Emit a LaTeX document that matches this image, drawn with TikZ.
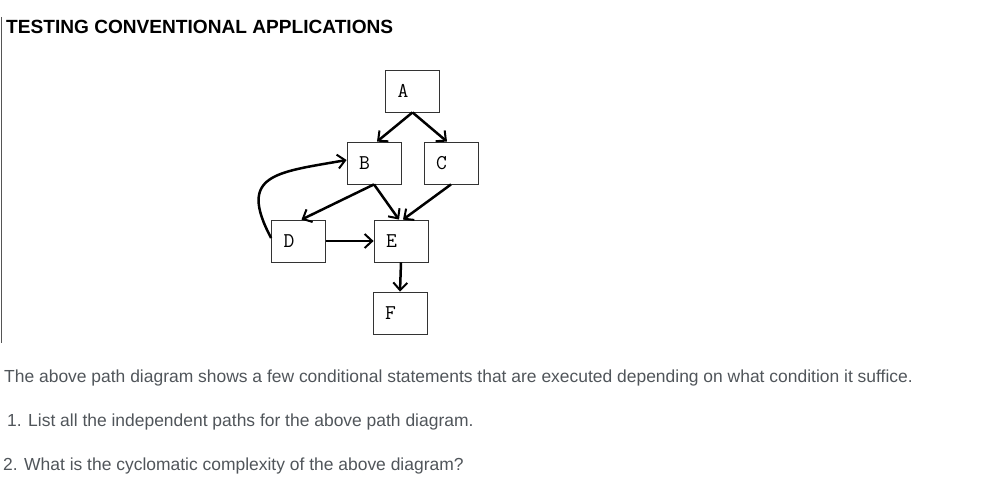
\documentclass[tikz,border=0pt]{standalone}
\usepackage{fontspec}
\setmainfont{Liberation Sans}
\usetikzlibrary{arrows.meta}
\definecolor{bodygray}{HTML}{50555A}
\definecolor{rulegray}{HTML}{555555}
\tikzset{
  block/.style={draw=black!80, line width=0.8pt, minimum width=54pt, minimum height=42pt,
    inner xsep=12pt, text width=30pt, align=left, font=\ttfamily\fontsize{21}{21}\selectfont},
  flow/.style={line width=2.5pt, -{Straight Barb[length=7.5pt,width=14pt,line width=2pt]}},
  bodytext/.style={anchor=base west, inner sep=0pt, text=bodygray, font=\fontsize{17.45}{19}\selectfont}
}

\begin{document}
\begin{tikzpicture}[x=1pt,y=1pt]
    \useasboundingbox (0,0) rectangle (993,-486);

    % Title
    \draw[rulegray, line width=1.4pt] (1.5,-17) -- (1.5,-343);
    \node[anchor=base west, inner sep=0pt, font=\bfseries\fontsize{19.1}{21}\selectfont] (title) at (6,-34) {TESTING CONVENTIONAL APPLICATIONS};

    % Draw nodes
    \node[block] (A) at (412.5,-91) {A};
    \node[block] (B) at (374,-163) {B};
    \node[block] (C) at (451,-163) {C};
    \node[block] (D) at (298.5,-241) {D};
    \node[block] (E) at (401,-241) {E};
    \node[block] (F) at (400,-313) {F};

    % Draw connections
    \draw[flow] (A.south) -- ([xshift=3pt]B.north);
    \draw[flow] (A.south) -- ([xshift=-4pt]C.north);
    \draw[flow] (B.south) -- ([xshift=3pt]D.north);
    \draw[flow] (B.south) -- ([xshift=-2pt]E.north);
    \draw[flow] (C.south) -- ([xshift=2pt]E.north);
    \draw[flow] (D.east) -- (E.west);
    \draw[flow] (E.south) -- (F.north);
    \draw[flow] ([yshift=3pt]D.west) to[out=118, in=190, looseness=1.7] ([yshift=3pt]B.west);

    % Questions
    \node[bodytext] (intro) at (4,-382.5) {The above path diagram shows a few conditional statements that are executed depending on what condition it suffice.};
    \node[bodytext] (q1) at (7,-426) {1. List all the independent paths for the above path diagram.};
    \node[bodytext] (q2) at (3,-470) {2. What is the cyclomatic complexity of the above diagram?};
\end{tikzpicture}
\end{document}
